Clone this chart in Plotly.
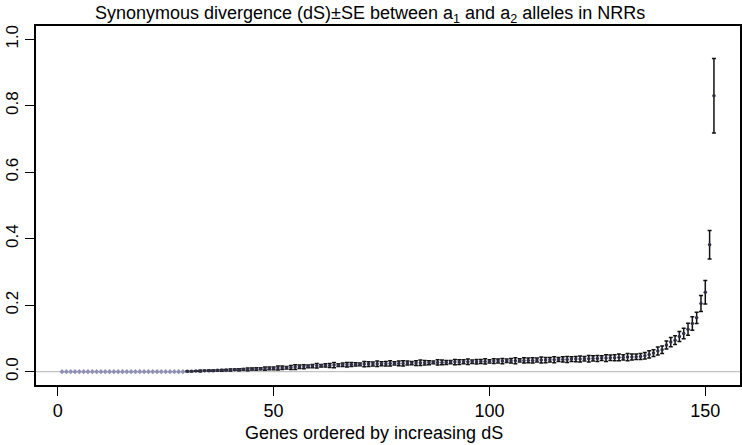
import plotly.graph_objects as go

gene_rank = list(range(1, 153))

ds_values = (
    [0.0] * 29
    + [0.001, 0.001, 0.002, 0.002, 0.003, 0.003, 0.003, 0.004, 0.004, 0.005]
    + [0.005, 0.006, 0.006, 0.007, 0.007, 0.008, 0.008, 0.009, 0.009, 0.010]
    + [0.010, 0.011, 0.012, 0.012, 0.013, 0.014, 0.015, 0.015, 0.016, 0.017]
    + [0.018, 0.018, 0.019, 0.019, 0.020, 0.020, 0.021, 0.021, 0.022, 0.022]
    + [0.022, 0.023, 0.023, 0.023, 0.024, 0.024, 0.024, 0.025, 0.025, 0.025]
    + [0.025, 0.026, 0.026, 0.026, 0.027, 0.027, 0.027, 0.028, 0.028, 0.028]
    + [0.028, 0.029, 0.029, 0.029, 0.030, 0.030, 0.030, 0.030, 0.031, 0.031]
    + [0.031, 0.032, 0.032, 0.032, 0.033, 0.033, 0.033, 0.034, 0.034, 0.034]
    + [0.034, 0.035, 0.035, 0.035, 0.036, 0.036, 0.037, 0.037, 0.037, 0.038]
    + [0.038, 0.038, 0.039, 0.039, 0.040, 0.040, 0.041, 0.041, 0.042, 0.042]
    + [0.043, 0.043, 0.044, 0.044, 0.045, 0.046, 0.048, 0.052, 0.056, 0.062]
    + [0.066, 0.080, 0.089, 0.095, 0.106, 0.115, 0.128, 0.145, 0.162, 0.205]
    + [0.239, 0.382, 0.830]
)

se_values = (
    [0.0] * 29
    + [0.001, 0.001, 0.001, 0.002, 0.001, 0.002, 0.002, 0.002, 0.003, 0.002]
    + [0.003, 0.002, 0.003, 0.003, 0.004, 0.003, 0.004, 0.003, 0.005, 0.004]
    + [0.004, 0.006, 0.005, 0.004, 0.006, 0.007, 0.005, 0.006, 0.004, 0.005]
    + [0.007, 0.004, 0.005, 0.006, 0.008, 0.004, 0.005, 0.007, 0.006, 0.005]
    + [0.004, 0.008, 0.007, 0.006, 0.008, 0.006, 0.007, 0.008, 0.005, 0.007]
    + [0.008, 0.006, 0.005, 0.007, 0.008, 0.007, 0.006, 0.004, 0.008, 0.007]
    + [0.006, 0.005, 0.008, 0.007, 0.006, 0.008, 0.005, 0.007, 0.006, 0.008]
    + [0.005, 0.007, 0.006, 0.008, 0.005, 0.007, 0.009, 0.005, 0.008, 0.007]
    + [0.008, 0.006, 0.009, 0.008, 0.007, 0.009, 0.006, 0.008, 0.009, 0.007]
    + [0.008, 0.009, 0.007, 0.010, 0.008, 0.009, 0.007, 0.010, 0.008, 0.009]
    + [0.010, 0.008, 0.011, 0.009, 0.008, 0.009, 0.010, 0.011, 0.010, 0.012]
    + [0.011, 0.012, 0.014, 0.013, 0.015, 0.016, 0.018, 0.020, 0.017, 0.024]
    + [0.035, 0.043, 0.112]
)

x_tick_values = [0, 50, 100, 150]
y_tick_values = [0.0, 0.2, 0.4, 0.6, 0.8, 1.0]

zero_x = [g for g, v in zip(gene_rank, ds_values) if v == 0]
zero_y = [v for v in ds_values if v == 0]
pos_x = [g for g, v in zip(gene_rank, ds_values) if v > 0]
pos_y = [v for v in ds_values if v > 0]
pos_se = [s for s, v in zip(se_values, ds_values) if v > 0]

font_family = "Liberation Sans, Arial, sans-serif"

W, H = 742, 445
M_L, M_R, M_T, M_B = 36, 2, 26, 60
plot_w = W - M_L - M_R
plot_h = H - M_T - M_B

fig = go.Figure()
fig.add_trace(go.Scatter(
    x=pos_x, y=pos_y, mode="markers",
    marker=dict(size=3.5, color="#2e2e44"),
    error_y=dict(type="data", array=pos_se, visible=True, color="#111111",
                 thickness=1.5, width=2),
    showlegend=False,
))
fig.add_trace(go.Scatter(
    x=zero_x, y=zero_y, mode="markers",
    marker=dict(size=4, color="#9090b4", symbol="diamond"),
    showlegend=False,
))

fig.add_shape(type="line", xref="paper", yref="y", x0=0, x1=1, y0=0, y1=0,
              line=dict(color="#b4b4b4", width=1), layer="below")

# title (centered at ~x=370, y=14 px)
fig.add_annotation(
    text="Synonymous divergence (dS)±SE between a<sub>1</sub> and a<sub>2</sub> alleles in NRRs",
    xref="paper", yref="paper",
    x=(370 - M_L) / plot_w, y=1 + (M_T - 14) / plot_h,
    xanchor="center", yanchor="middle", showarrow=False,
    font=dict(size=18, family=font_family, color="black"),
)
# x-axis title (centered at ~x=374, y=433 px)
fig.add_annotation(
    text="Genes ordered by increasing dS",
    xref="paper", yref="paper",
    x=(374 - M_L) / plot_w, y=-(433 - (H - M_B)) / plot_h,
    xanchor="center", yanchor="middle", showarrow=False,
    font=dict(size=18, family=font_family, color="black"),
)

fig.update_layout(
    width=W, height=H,
    margin=dict(l=M_L, r=M_R, t=M_T, b=M_B),
    paper_bgcolor="white", plot_bgcolor="white",
    font=dict(family=font_family, color="black"),
    xaxis=dict(
        range=[-5.04, 158.04], tickvals=x_tick_values,
        ticks="outside", ticklen=9, tickwidth=1.3, tickcolor="black",
        showgrid=False, zeroline=False, automargin=False,
        showline=True, linecolor="black", linewidth=1.5, mirror=True,
        tickfont=dict(size=18),
    ),
    yaxis=dict(
        range=[-0.04, 1.04], tickvals=y_tick_values, tickformat=".1f",
        ticks="outside", ticklen=9, tickwidth=1.3, tickcolor="black",
        showgrid=False, zeroline=False, automargin=False,
        showline=True, linecolor="black", linewidth=1.5, mirror=True,
        tickangle=-90, tickfont=dict(size=17),
    ),
)

fig.write_html(
    "out.html",
    config={"displayModeBar": False},
    post_script="document.body.style.margin='0';document.body.style.padding='0';",
)
